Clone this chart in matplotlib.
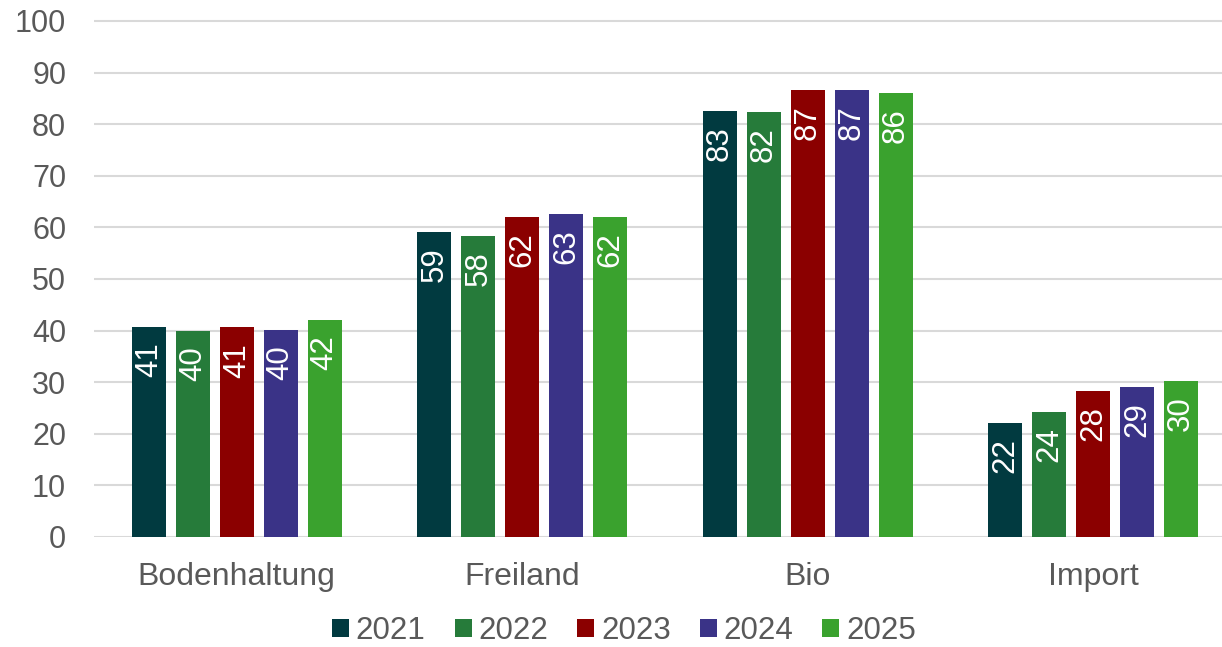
import matplotlib.pyplot as plt
import numpy as np

categories = ["Bodenhaltung", "Freiland", "Bio", "Import"]
years = ["2021", "2022", "2023", "2024", "2025"]
values = {
    "2021": [40.7, 59.1, 82.6, 22.1],
    "2022": [39.9, 58.4, 82.4, 24.2],
    "2023": [40.6, 62.1, 86.6, 28.3],
    "2024": [40.2, 62.6, 86.6, 29.1],
    "2025": [42.0, 62.0, 86.0, 30.2],
}
labels = {
    "2021": [41, 59, 83, 22],
    "2022": [40, 58, 82, 24],
    "2023": [41, 62, 87, 28],
    "2024": [40, 63, 87, 29],
    "2025": [42, 62, 86, 30],
}
colors = ["#013A40", "#267B3A", "#8B0000", "#3A3387", "#3AA22E"]

plt.rcParams['font.family'] = ['Liberation Sans', 'DejaVu Sans']
grey = "#595959"

fig = plt.figure(figsize=(12.22, 6.47), dpi=100)
# plot area: left 94px, bottom at 537px, right edge beyond figure (cropped)
ax = fig.add_axes([94/1222, 1-537/647, (1222-94)/1222, (537-15.8)/647])

x = np.arange(len(categories))
width = 0.119
step = 0.154
for i, yr in enumerate(years):
    pos = x + (i - 2) * step
    bars = ax.bar(pos, values[yr], width, color=colors[i], label=yr, zorder=3)
    for b, lab in zip(bars, labels[yr]):
        ax.annotate(str(lab), (b.get_x() + b.get_width()/2, b.get_height()),
                    xytext=(0, -11), textcoords="offset points",
                    rotation=90, ha="center", va="top", color="white",
                    fontsize=22.5, zorder=4)

ax.set_xlim(-0.5, 3.5 - 14/285.3)
ax.set_ylim(0, 101)
ax.set_yticks(range(0, 101, 10))
ax.set_xticks(x)
ax.set_xticklabels(categories, fontsize=23)
ax.tick_params(axis="both", length=0, labelcolor=grey)
ax.tick_params(axis="y", pad=20, labelsize=22)
ax.tick_params(axis="x", pad=18)
ax.yaxis.grid(True, color="#D9D9D9", linewidth=1.5, zorder=0)
for s in ax.spines.values():
    s.set_visible(False)

leg = ax.legend(loc="center", bbox_to_anchor=(624/1222, 1-631/647),
                bbox_transform=fig.transFigure, ncol=5, frameon=False,
                fontsize=22.5, handlelength=0.54, handleheight=0.54,
                handletextpad=0.22, columnspacing=0.93, borderpad=0.1)
for t in leg.get_texts():
    t.set_color(grey)

fig.savefig("out.png", dpi=100)
